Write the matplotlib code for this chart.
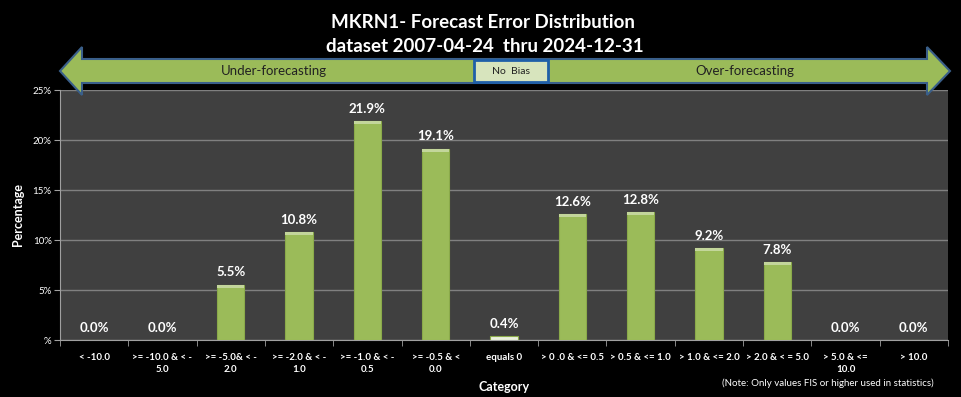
import matplotlib.pyplot as plt
import numpy as np
from matplotlib.patches import Polygon, Rectangle

categories = ['< -10.0', '>= -10.0 & < -\n5.0', '>= -5.0& < -\n2.0', '>= -2.0 & < -\n1.0',
              '>= -1.0 & < -\n0.5', '>= -0.5 & <\n0.0', 'equals 0', '> 0 .0 & <= 0.5',
              '> 0.5 & <= 1.0', '> 1.0 & <= 2.0', '> 2.0 & < = 5.0', '> 5.0 & <=\n10.0', '> 10.0']
percentages = [0.0, 0.0, 5.5, 10.8, 21.9, 19.1, 0.4, 12.6, 12.8, 9.2, 7.8, 0.0, 0.0]
ytick_values = [0, 5, 10, 15, 20, 25]
ytick_labels = ['%', '5%', '10%', '15%', '20%', '25%']

plt.rcParams['font.family'] = ['Lato', 'DejaVu Sans']

W, H = 961, 397


def px(x, y):
    return (x / W, 1 - y / H)


def main():
    fig = plt.figure(figsize=(W / 100, H / 100), dpi=100, facecolor='black')
    ax = fig.add_axes([60 / W, 1 - 340 / H, 888 / W, 250 / H])
    ax.set_facecolor('#404040')

    x = np.arange(len(categories))
    colors = ['#9BBB59'] * len(categories)
    colors[6] = '#EBF1DE'
    bars = ax.bar(x, percentages, width=0.4, color=colors, edgecolor='#8AAA4A', linewidth=0.8, zorder=3)
    # light bevel along the tops of the taller bars
    tall = [v if v > 1 else 0 for v in percentages]
    ax.bar(x, [0.25 if v > 0 else 0 for v in tall], bottom=[max(v - 0.25, 0) for v in tall],
           width=0.4, color='#C3D69B', linewidth=0, zorder=4)

    for b, v in zip(bars, percentages):
        ax.annotate(f'{v:.1f}%', (b.get_x() + b.get_width() / 2, v), xytext=(0, 9),
                    textcoords='offset points', ha='center', va='center',
                    color='white', fontsize=9.5, fontweight='bold')

    ax.set_xlim(-0.5, len(categories) - 0.5)
    ax.set_ylim(0, 25)
    ax.set_yticks(ytick_values)
    ax.set_yticklabels(ytick_labels, color='white', fontsize=7)
    ax.yaxis.grid(True, color='#808080', linewidth=1, zorder=0)
    ax.set_axisbelow(True)

    ax.set_xticks(x)
    ax.set_xticklabels(categories, color='white', fontsize=7, fontweight='bold', linespacing=1.5)
    ax.set_xticks(np.arange(-0.5, len(categories)), minor=True)
    ax.tick_params(axis='x', which='major', length=0, pad=9)
    ax.tick_params(axis='x', which='minor', length=4, color='#a0a0a0')
    ax.tick_params(axis='y', length=4, color='#a0a0a0', pad=2)

    for s in ['top', 'right']:
        ax.spines[s].set_visible(False)
    for s in ['left', 'bottom']:
        ax.spines[s].set_color('#a0a0a0')

    ax.set_ylabel('Percentage', color='white', fontsize=9, fontweight='bold', labelpad=6)
    ax.set_xlabel('Category', color='white', fontsize=9, fontweight='bold', labelpad=4)
    ax.xaxis.set_label_coords(0.5, -0.165)

    fig.text(*px(483, 22), 'MKRN1- Forecast Error Distribution', ha='center', va='center',
             color='white', fontsize=13.5, fontweight='bold')
    fig.text(*px(485, 47), 'dataset 2007-04-24  thru 2024-12-31', ha='center', va='center',
             color='white', fontsize=13.5, fontweight='bold')

    # double arrow
    cy = 71
    pts = [(60, cy), (82, cy - 24), (82, cy - 12), (927, cy - 12), (927, cy - 24), (950, cy),
           (927, cy + 24), (927, cy + 12), (82, cy + 12), (82, cy + 24)]
    arrow = Polygon([px(a, b) for a, b in pts], closed=True, transform=fig.transFigure,
                    facecolor='#9BBB59', edgecolor='#3A5F8A', linewidth=1.5, zorder=5)
    fig.add_artist(arrow)
    box = Rectangle(px(474, 82), 74 / W, 22 / H, transform=fig.transFigure,
                    facecolor='#D7E4BD', edgecolor='#1F5FA8', linewidth=2, zorder=6)
    fig.add_artist(box)
    fig.text(*px(511, 71), 'No  Bias', ha='center', va='center', fontsize=7.5, color='#222222', zorder=7)
    fig.text(*px(274, 71), 'Under-forecasting', ha='center', va='center', fontsize=9.5, color='#222222', zorder=7)
    fig.text(*px(745, 71), 'Over-forecasting', ha='center', va='center', fontsize=9.5, color='#222222', zorder=7)

    fig.text(*px(828, 383), '(Note: Only values FIS or higher used in statistics)', ha='center', va='center',
             fontsize=7, color='white')

    fig.savefig('out.png', dpi=100, facecolor='black')


if __name__ == '__main__':
    main()
